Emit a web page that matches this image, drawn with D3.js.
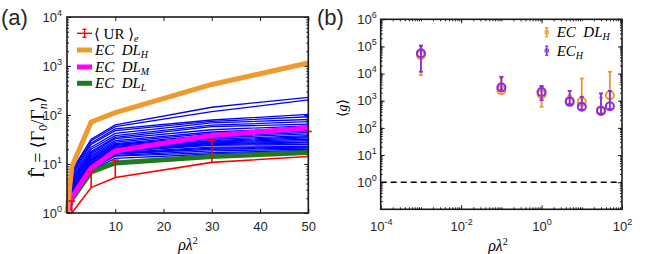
<!DOCTYPE html>
<html>
<head>
<meta charset="utf-8">
<script src="https://cdn.jsdelivr.net/npm/d3@7"></script>
<style>
body { margin: 0; background: #fff; }
svg text { font-family: 'Liberation Sans', Arial, sans-serif; fill: #262626; }
svg .math { font-family: 'Liberation Serif', 'DejaVu Serif', serif; fill: #000; }
</style>
</head>
<body>
<div id="chart"></div>
<script>
// ---- panel (a) data ----
let rhoA = [0.001, 1, 5, 10, 30, 50]
let urMean = [1, 1, 3.3, 5.3, 10.8, 14.2]
let urUpper = [1, 1.75, 6.9, 12, 30, 46]
let ecDlH = [1, 8.8, 72, 112, 420, 1150]
let ecDlM = [1, 2.1, 8.3, 18.5, 38, 55]
let ecDlL = [1, 1.9, 6.9, 10.5, 14.2, 17.2]
// individual EC curves (blue)
let ecRuns = [
  [1, 7.5, 32, 63, 144, 230],
  [1, 7, 30, 58, 117, 203],
  [1, 6.5, 27, 52, 79, 103],
  [1, 6, 25, 48, 74, 92],
  [1, 5.5, 22, 42, 69, 81],
  [1, 5, 20, 38, 62, 73],
  [1, 4.8, 18, 35, 58, 65],
  [1, 4.5, 17, 33, 50, 60],
  [1, 4.2, 16, 30, 45, 55],
  [1, 4, 15, 28, 42, 50],
  [1, 3.8, 14, 26, 39, 47],
  [1, 3.6, 13, 25, 36, 44],
  [1, 3.5, 12.5, 24, 34, 41],
  [1, 3.3, 12, 23, 32, 38],
  [1, 3.2, 11.5, 22, 30, 36],
  [1, 3.1, 11, 21, 29, 34],
  [1, 3, 10.5, 20, 28, 32],
  [1, 2.9, 10, 19.5, 27, 30],
  [1, 2.8, 9.8, 19, 26, 28],
  [1, 2.7, 9.5, 18.5, 25, 27],
  [1, 2.6, 9.3, 18, 24, 25],
  [1, 2.5, 9, 17, 22, 23],
  [1, 2.4, 8.8, 16.5, 21, 22],
  [1, 2.3, 8.5, 16, 20, 21],
  [1, 2.2, 8.2, 15, 18.5, 20],
  [1, 2.1, 8, 14.5, 17, 19],
  [1, 2.05, 7.5, 13, 16, 18.5]
]
let xTicksA = [10, 20, 30, 40, 50]
let yTicksA = [1, 10, 100, 1000, 10000]

// ---- panel (b) data ----
let rhoB = [0.001, 0.1, 1, 5, 10, 30, 50]
let gDlH = [48000, 2450, 1750, 1000, 910, 450, 1600]
let gDlHLow = [8700, 2200, 600, 750, 700, 350, 1200]
let gDlHHigh = [100000, 7000, 3300, 1600, 6600, 1300, 11700]
let gEcH = [56000, 3100, 2100, 910, 600, 420, 630]
let gEcHLow = [11700, 2600, 1050, 750, 480, 330, 500]
let gEcHHigh = [108000, 7600, 3500, 2300, 1400, 1870, 2300]
let xTicksB = [1e-4, 1e-2, 1, 1e2]
let yTicksB = [1, 10, 100, 1e3, 1e4, 1e5, 1e6]

let svg = d3.select('#chart')
  .append('svg')
  .attr('width', 654)
  .attr('height', 254)

// log minor ticks 2..9 inside domain
function minorTicks (domain) {
  let out = []
  let lo = Math.floor(Math.log10(domain[0]))
  let hi = Math.ceil(Math.log10(domain[1]))
  for (let e = lo; e < hi; e++) {
    for (let m = 1; m <= 9; m++) {
      let v = m * Math.pow(10, e)
      if (v > domain[0] && v < domain[1]) out.push(v)
    }
  }
  return out
}

// 10^k labels
function powLabel (sel) {
  sel.each(function (d) {
    let t = d3.select(this).text(null)
    t.append('tspan').text('10')
    t.append('tspan').attr('dy', -6).attr('font-size', '9px').text(Math.round(Math.log10(d)))
  })
}

function frame (g, x0, x1, y0, y1) {
  g.append('rect')
    .attr('x', x0).attr('y', y0)
    .attr('width', x1 - x0).attr('height', y1 - y0)
    .attr('fill', 'none')
    .attr('stroke', '#1a1a1a')
    .attr('stroke-width', 1.6)
}

function cleanAxis (g) {
  g.select('.domain').remove()
  g.selectAll('line').attr('stroke', '#1a1a1a').attr('stroke-width', 1)
  g.selectAll('text').attr('font-size', '13px').attr('fill', '#262626').attr('font-family', 'Liberation Sans, Arial, sans-serif')
}

// ================= panel (a) =================
let xA = d3.scaleLinear().domain([0, 50]).range([67, 308.3])
let yA = d3.scaleLog().domain([1, 1e4]).range([213, 17])
let gA = svg.append('g')

gA.append('g').attr('transform', 'translate(0,213)')
  .call(d3.axisBottom(xA).tickValues(xTicksA).tickSize(-4).tickSizeOuter(0).tickPadding(9))
  .call(cleanAxis)
gA.append('g').attr('transform', 'translate(0,17)')
  .call(d3.axisTop(xA).tickValues(xTicksA).tickSize(-4).tickSizeOuter(0).tickFormat(''))
  .call(cleanAxis)
gA.append('g').attr('transform', 'translate(67,0)')
  .call(d3.axisLeft(yA).tickValues(yTicksA).tickSize(-4).tickSizeOuter(0).tickPadding(5))
  .call(cleanAxis)
  .selectAll('.tick text').call(powLabel)
gA.append('g').attr('transform', 'translate(67,0)')
  .call(d3.axisLeft(yA).tickValues(minorTicks(yA.domain())).tickSize(-2).tickSizeOuter(0).tickFormat(''))
  .call(cleanAxis)
gA.append('g').attr('transform', 'translate(308.3,0)')
  .call(d3.axisRight(yA).tickValues(yTicksA).tickSize(-4).tickSizeOuter(0).tickFormat(''))
  .call(cleanAxis)
gA.append('g').attr('transform', 'translate(308.3,0)')
  .call(d3.axisRight(yA).tickValues(minorTicks(yA.domain())).tickSize(-2).tickSizeOuter(0).tickFormat(''))
  .call(cleanAxis)

let lineA = d3.line()
  .x(function (d, i) { return xA(rhoA[i]) })
  .y(function (d) { return yA(d) })

let plotA = gA.append('g')
plotA.selectAll('path.run')
  .data(ecRuns)
  .enter()
  .append('path')
  .attr('class', 'run')
  .attr('d', lineA)
  .attr('fill', 'none')
  .attr('stroke', '#0000ff')
  .attr('stroke-width', 1.3)

let thick = [
  { vals: ecDlL, color: '#1f7a1f' },
  { vals: ecDlM, color: '#ff00ff' },
  { vals: ecDlH, color: '#ee9a2e' }
]
plotA.selectAll('path.thick')
  .data(thick)
  .enter()
  .append('path')
  .attr('class', 'thick')
  .attr('d', function (d) { return lineA(d.vals) })
  .attr('fill', 'none')
  .attr('stroke', function (d) { return d.color })
  .attr('stroke-width', 5)
  .attr('stroke-linejoin', 'round')

// red mean with upper error bars
plotA.append('path')
  .attr('d', lineA(urMean))
  .attr('fill', 'none')
  .attr('stroke', '#ff0000')
  .attr('stroke-width', 1.6)
let ebA = plotA.selectAll('g.eb')
  .data(urMean.map(function (v, i) { return { x: rhoA[i], lo: v, hi: urUpper[i] } }).filter(function (d) { return d.hi > d.lo }))
  .enter()
  .append('g')
  .attr('class', 'eb')
ebA.append('line')
  .attr('x1', function (d) { return xA(d.x) })
  .attr('x2', function (d) { return xA(d.x) })
  .attr('y1', function (d) { return yA(d.lo) })
  .attr('y2', function (d) { return yA(d.hi) })
  .attr('stroke', '#ff0000').attr('stroke-width', 1.6)
ebA.append('line')
  .attr('x1', function (d) { return xA(d.x) - 3.5 })
  .attr('x2', function (d) { return xA(d.x) + 3.5 })
  .attr('y1', function (d) { return yA(d.hi) })
  .attr('y2', function (d) { return yA(d.hi) })
  .attr('stroke', '#ff0000').attr('stroke-width', 1.6)

frame(gA, 67, 308.3, 17, 213)

// legend (a)
let legA = gA.append('g')
legA.append('line').attr('x1', 77).attr('x2', 92).attr('y1', 33.3).attr('y2', 33.3).attr('stroke', '#ff0000').attr('stroke-width', 1.4)
legA.append('line').attr('x1', 84.5).attr('x2', 84.5).attr('y1', 29.3).attr('y2', 37.3).attr('stroke', '#ff0000').attr('stroke-width', 1.4)
legA.append('line').attr('x1', 82.5).attr('x2', 86.5).attr('y1', 29.3).attr('y2', 29.3).attr('stroke', '#ff0000').attr('stroke-width', 1.4)
legA.append('line').attr('x1', 82.5).attr('x2', 86.5).attr('y1', 37.3).attr('y2', 37.3).attr('stroke', '#ff0000').attr('stroke-width', 1.4)
let urText = legA.append('text').attr('class', 'math').attr('x', 94).attr('y', 38.5).attr('font-size', '15px')
urText.append('tspan').text('\u27E8 UR \u27E9')
urText.append('tspan').attr('dy', 3).attr('font-size', '10px').attr('font-style', 'italic').text('e')

let legRows = [
  { y: 50, color: '#ee9a2e', sub: 'H' },
  { y: 67, color: '#ff00ff', sub: 'M' },
  { y: 83.3, color: '#1f7a1f', sub: 'L' }
]
legRows.forEach(function (r) {
  legA.append('line').attr('x1', 77).attr('x2', 92).attr('y1', r.y).attr('y2', r.y)
    .attr('stroke', r.color).attr('stroke-width', 5)
  let t = legA.append('text').attr('class', 'math').attr('x', 95).attr('y', r.y + 5)
    .attr('font-size', '15px').attr('font-style', 'italic')
  t.append('tspan').text('EC\u2002DL')
  t.append('tspan').attr('dy', 3).attr('font-size', '10px').text(r.sub)
})

// axis titles (a)
let xlabA = gA.append('text').attr('class', 'math').attr('x', 188).attr('y', 250)
  .attr('text-anchor', 'middle').attr('font-size', '16px').attr('font-style', 'italic')
xlabA.append('tspan').text('\u03C1\u03BB')
xlabA.append('tspan').attr('dy', -6).attr('font-size', '10px').attr('font-style', 'normal').text('2')

let ylabA = gA.append('text').attr('class', 'math')
  .attr('transform', 'translate(44,137) rotate(-90)')
  .attr('text-anchor', 'middle').attr('font-size', '18px')
ylabA.append('tspan').text('\u0393')
ylabA.append('tspan').attr('dx', -8.5).attr('dy', -3).text('\u02C6')
ylabA.append('tspan').attr('dx', 2.5).attr('dy', 3).text(' = \u27E8\u0393')
ylabA.append('tspan').attr('dy', 3).attr('font-size', '12px').text('0')
ylabA.append('tspan').attr('dy', -3).text('/\u0393')
ylabA.append('tspan').attr('dy', 3).attr('font-size', '12px').attr('font-style', 'italic').text('n')
ylabA.append('tspan').attr('dy', -3).text('\u27E9')

svg.append('text').attr('x', 1).attr('y', 24.5).attr('font-size', '22px').attr('fill', '#000').text('(a)')

// ================= panel (b) =================
let xB = d3.scaleLog().domain([1e-4, 1e2]).range([380.7, 622])
let yB = d3.scaleLog().domain([0.1, 1e6]).range([209.3, 19.3])
let gB = svg.append('g')

gB.append('g').attr('transform', 'translate(0,209.3)')
  .call(d3.axisBottom(xB).tickValues(xTicksB).tickSize(-4).tickSizeOuter(0).tickPadding(12))
  .call(cleanAxis)
  .selectAll('.tick text').call(powLabel)
gB.append('g').attr('transform', 'translate(0,209.3)')
  .call(d3.axisBottom(xB).tickValues(minorTicks(xB.domain()).filter(function (v) { return xTicksB.indexOf(v) < 0 })).tickSize(-2).tickSizeOuter(0).tickFormat(''))
  .call(cleanAxis)
gB.append('g').attr('transform', 'translate(0,19.3)')
  .call(d3.axisTop(xB).tickValues(xTicksB).tickSize(-4).tickSizeOuter(0).tickFormat(''))
  .call(cleanAxis)
gB.append('g').attr('transform', 'translate(0,19.3)')
  .call(d3.axisTop(xB).tickValues(minorTicks(xB.domain())).tickSize(-2).tickSizeOuter(0).tickFormat(''))
  .call(cleanAxis)
gB.append('g').attr('transform', 'translate(380.7,0)')
  .call(d3.axisLeft(yB).tickValues(yTicksB).tickSize(-4).tickSizeOuter(0).tickPadding(4))
  .call(cleanAxis)
  .selectAll('.tick text').call(powLabel)
gB.append('g').attr('transform', 'translate(380.7,0)')
  .call(d3.axisLeft(yB).tickValues(minorTicks(yB.domain())).tickSize(-2).tickSizeOuter(0).tickFormat(''))
  .call(cleanAxis)
gB.append('g').attr('transform', 'translate(622,0)')
  .call(d3.axisRight(yB).tickValues(yTicksB).tickSize(-4).tickSizeOuter(0).tickFormat(''))
  .call(cleanAxis)
gB.append('g').attr('transform', 'translate(622,0)')
  .call(d3.axisRight(yB).tickValues(minorTicks(yB.domain())).tickSize(-2).tickSizeOuter(0).tickFormat(''))
  .call(cleanAxis)

// dashed reference at <g> = 1
gB.append('line')
  .attr('x1', 380.7).attr('x2', 622)
  .attr('y1', yB(1)).attr('y2', yB(1))
  .attr('stroke', '#000').attr('stroke-width', 1.5)
  .attr('stroke-dasharray', '6,4')

let seriesB = [
  { mid: gDlH, lo: gDlHLow, hi: gDlHHigh, color: '#f0952a' },
  { mid: gEcH, lo: gEcHLow, hi: gEcHHigh, color: '#8a2be2' }
]
seriesB.forEach(function (s) {
  let pts = rhoB.map(function (x, i) { return { x: x, mid: s.mid[i], lo: s.lo[i], hi: s.hi[i] } })
  let g = gB.append('g')
  let p = g.selectAll('g').data(pts).enter().append('g')
  p.append('line')
    .attr('x1', function (d) { return xB(d.x) }).attr('x2', function (d) { return xB(d.x) })
    .attr('y1', function (d) { return yB(d.lo) }).attr('y2', function (d) { return yB(d.hi) })
    .attr('stroke', s.color).attr('stroke-width', 1.8)
  p.append('line')
    .attr('x1', function (d) { return xB(d.x) - 2 }).attr('x2', function (d) { return xB(d.x) + 2 })
    .attr('y1', function (d) { return yB(d.hi) }).attr('y2', function (d) { return yB(d.hi) })
    .attr('stroke', s.color).attr('stroke-width', 1.8)
  p.append('line')
    .attr('x1', function (d) { return xB(d.x) - 2 }).attr('x2', function (d) { return xB(d.x) + 2 })
    .attr('y1', function (d) { return yB(d.lo) }).attr('y2', function (d) { return yB(d.lo) })
    .attr('stroke', s.color).attr('stroke-width', 1.8)
  p.append('circle')
    .attr('cx', function (d) { return xB(d.x) })
    .attr('cy', function (d) { return yB(d.mid) })
    .attr('r', 4)
    .attr('fill', 'none')
    .attr('stroke', s.color)
    .attr('stroke-width', 2)
})

frame(gB, 380.7, 622, 19.3, 209.3)

// legend (b)
let legB = [
  { y: 32.3, color: '#f0952a', label: 'EC\u2002DL' },
  { y: 50.7, color: '#8a2be2', label: 'EC' }
]
legB.forEach(function (r) {
  let g = gB.append('g')
  g.append('line').attr('x1', 546.7).attr('x2', 546.7).attr('y1', r.y - 4.5).attr('y2', r.y + 4.5).attr('stroke', r.color).attr('stroke-width', 1.4)
  g.append('line').attr('x1', 545.2).attr('x2', 548.2).attr('y1', r.y - 4.5).attr('y2', r.y - 4.5).attr('stroke', r.color).attr('stroke-width', 1.4)
  g.append('line').attr('x1', 545.2).attr('x2', 548.2).attr('y1', r.y + 4.5).attr('y2', r.y + 4.5).attr('stroke', r.color).attr('stroke-width', 1.4)
  g.append('circle').attr('cx', 546.7).attr('cy', r.y).attr('r', 1.8).attr('fill', 'none').attr('stroke', r.color).attr('stroke-width', 1.2)
  let t = g.append('text').attr('class', 'math').attr('x', 556.7).attr('y', r.y + 5)
    .attr('font-size', '15px').attr('font-style', 'italic')
  t.append('tspan').text(r.label)
  t.append('tspan').attr('dy', 3).attr('font-size', '10px').text('H')
})

// axis titles (b)
let xlabB = gB.append('text').attr('class', 'math').attr('x', 498).attr('y', 251)
  .attr('text-anchor', 'middle').attr('font-size', '16px').attr('font-style', 'italic')
xlabB.append('tspan').text('\u03C1\u03BB')
xlabB.append('tspan').attr('dy', -6).attr('font-size', '10px').attr('font-style', 'normal').text('2')

let ylabB = gB.append('text').attr('class', 'math')
  .attr('transform', 'translate(347,108) rotate(-90)')
  .attr('text-anchor', 'middle').attr('font-size', '14px')
ylabB.append('tspan').text('\u27E8')
ylabB.append('tspan').attr('font-style', 'italic').text('g')
ylabB.append('tspan').text('\u27E9')

svg.append('text').attr('x', 317).attr('y', 24.5).attr('font-size', '22px').attr('fill', '#000').text('(b)')
</script>
</body>
</html>
